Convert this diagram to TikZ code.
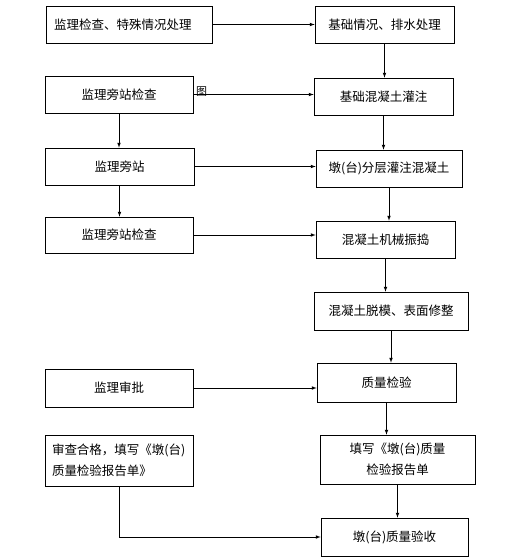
\documentclass[tikz,border=0pt]{standalone}
\usepackage{fontspec}
\setmainfont{Noto Sans CJK SC}
\usetikzlibrary{calc}

\begin{document}
\begin{tikzpicture}[x = 1pt, y = -1pt,
  box/.style = {draw, line width = .7pt, inner sep = 0pt,
  font = \fontsize{12.5}{21}\selectfont},
  flow/.style = {-latex, line width = .7pt}]
  \useasboundingbox (0, 0) rectangle (525, 560);

  \node[box, minimum width = 166pt, minimum height = 37pt, text width = 150pt,
  align = left] (l1) at (129, 24.5) {监理检查、特殊情况处理};
  \node[box, minimum width = 148pt, minimum height = 37pt] (l2) at (119, 94.5)
  {监理旁站检查};
  \node[box, minimum width = 149pt, minimum height = 37pt] (l3) at (119.5, 166.5)
  {监理旁站};
  \node[box, minimum width = 148pt, minimum height = 36pt] (l4) at (119, 235)
  {监理旁站检查};
  \node[box, minimum width = 148pt, minimum height = 38pt] (l5) at (119, 388)
  {监理审批};
  \node[box, minimum width = 148pt, minimum height = 51pt, text width = 134pt,
  align = left] (l6) at (119, 460.5) {审查合格，填写《墩(台)\\质量检验报告单》};

  \node[box, minimum width = 139pt, minimum height = 37pt] (r1) at (384.5, 24.5)
  {基础情况、排水处理};
  \node[box, minimum width = 139pt, minimum height = 37pt] (r2) at (383.5, 96.5)
  {基础混凝土灌注};
  \node[box, minimum width = 146pt, minimum height = 37pt] (r3) at (389, 168.5)
  {墩(台)分层灌注混凝土};
  \node[box, minimum width = 139pt, minimum height = 37pt] (r4) at (385.5, 239.5)
  {混凝土机械振捣};
  \node[box, minimum width = 154pt, minimum height = 38pt] (r5) at (391, 311)
  {混凝土脱模、表面修整};
  \node[box, minimum width = 139pt, minimum height = 39pt] (r6) at (386.5, 382.5)
  {质量检验};
  \node[box, minimum width = 155pt, minimum height = 49pt, align = center]
  (r7) at (397.5, 459.5) {填写《墩(台)质量\\检验报告单};
  \node[box, minimum width = 147pt, minimum height = 38pt] (r8) at (394.5, 537)
  {墩(台)质量验收};

  \node[font = \fontsize{11}{11}\selectfont, inner sep = 0pt] (tu) at (201.5, 92)
  {图};

  \draw[flow] (l1) -- (l1 -| r1.west);
  \draw[flow] (l2) -- (l2 -| r2.west);
  \draw[flow] (l3) -- (l3 -| r3.west);
  \draw[flow] (l4) -- (l4 -| r4.west);
  \draw[flow] (l5) -- (l5 -| r6.west);
  \draw[flow] (l6.south) |- (r8.west);

  \draw[flow] (l2.south) -- (l2.south |- l3.north);
  \draw[flow] (l3.south) -- (l3.south |- l4.north);

  \draw[flow] (r1.south) -- (r1.south |- r2.north);
  \draw[flow] (r2.south) -- (r2.south |- r3.north);
  \draw[flow] (r3.south) -- (r3.south |- r4.north);
  \draw[flow] (r4.south) -- (r4.south |- r5.north);
  \draw[flow] (r5.south) -- (r5.south |- r6.north);
  \draw[flow] (r6.south) -- (r6.south |- r7.north);
  \draw[flow] (r7.south) -- (r7.south |- r8.north);
\end{tikzpicture}
\end{document}
